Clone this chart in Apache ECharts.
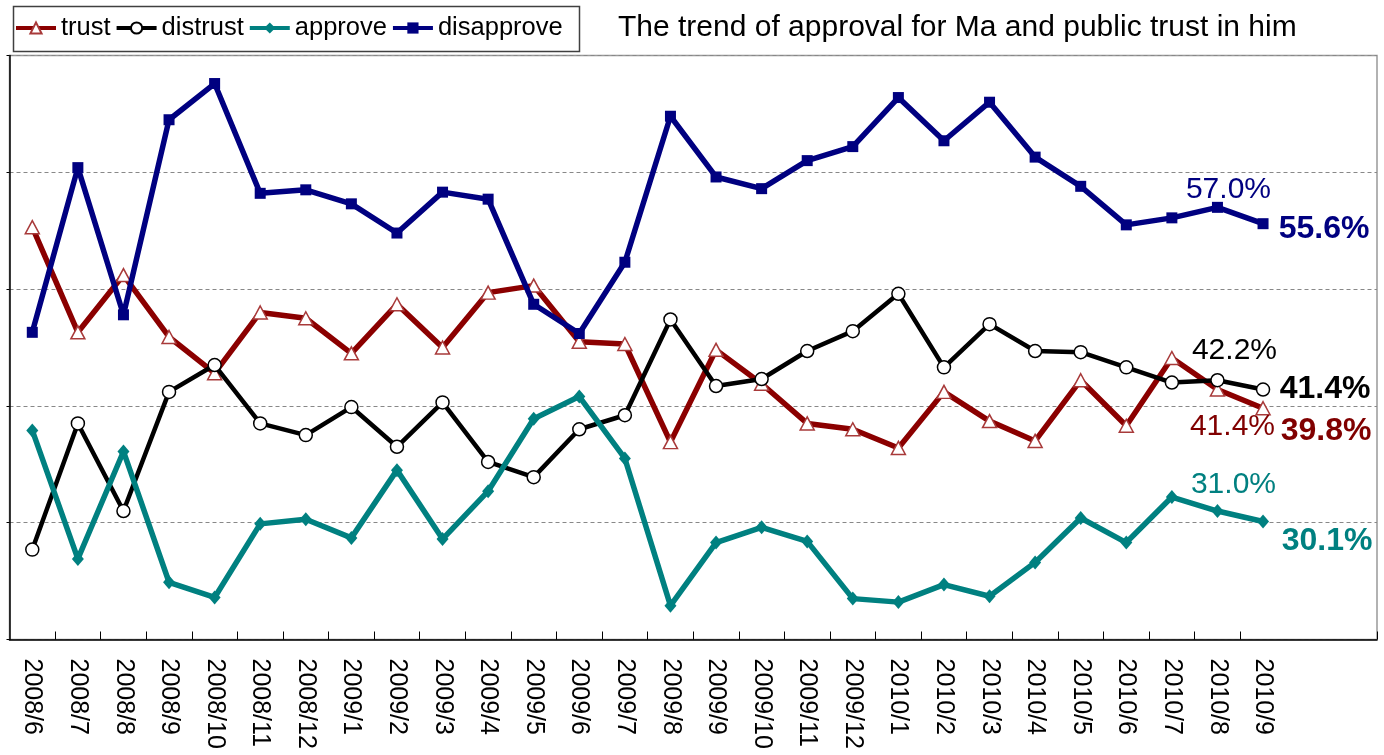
<!DOCTYPE html>
<html><head><meta charset="utf-8">
<script src="https://cdn.jsdelivr.net/npm/echarts@6/dist/echarts.min.js"></script>
<style>html,body{margin:0;padding:0;background:#fff}#c{width:1384px;height:755px}</style>
</head><body><div id="c"></div>
<script>
const categories = ['2008/6','2008/7','2008/8','2008/9','2008/10','2008/11','2008/12','2009/1','2009/2','2009/3','2009/4','2009/5','2009/6','2009/7','2009/8','2009/9','2009/10','2009/11','2009/12','2010/1','2010/2','2010/3','2010/4','2010/5','2010/6','2010/7','2010/8','2010/9'];
const emptyCategories = ['', ''];
const trust      = [55.3,46.3,51.2,45.9,42.8,48.0,47.5,44.5,48.7,45.0,49.7,50.3,45.5,45.3,36.9,44.8,41.9,38.5,38.0,36.4,41.2,38.7,37.0,42.2,38.3,44.1,41.4,39.8];
const distrust   = [27.7,38.5,31.0,41.2,43.5,38.5,37.5,39.9,36.5,40.3,35.2,33.9,38.0,39.2,47.4,41.7,42.3,44.7,46.4,49.6,43.3,47.0,44.7,44.6,43.3,42.0,42.2,41.4];
const approve    = [37.9,26.9,36.1,24.9,23.6,29.9,30.3,28.7,34.5,28.6,32.7,38.9,40.8,35.5,22.9,28.3,29.6,28.4,23.5,23.2,24.7,23.7,26.6,30.4,28.3,32.2,31.0,30.1];
const disapprove = [46.3,60.4,47.8,64.5,67.6,58.2,58.5,57.3,54.8,58.3,57.7,48.7,46.2,52.3,64.8,59.6,58.6,61.0,62.2,66.4,62.7,66.0,61.3,58.8,55.5,56.1,57.0,55.6];
const yMin = 20, yMax = 70, yStep = 10;

const FONT = '"Liberation Sans", Arial, sans-serif';

function withEndLabels(values, color, offSmall, offBig) {
  const n = values.length;
  return values.map(function (v, i) {
    if (i === n - 2) {
      return {value: v, label: {show: true, position: 'inside', offset: offSmall, color: color,
        fontSize: 30, fontFamily: FONT, formatter: function (p) { return p.value.toFixed(1) + '%'; }}};
    }
    if (i === n - 1) {
      return {value: v, label: {show: true, position: 'inside', offset: offBig, color: color,
        fontSize: 32, fontWeight: 'bold', fontFamily: FONT, formatter: function (p) { return p.value.toFixed(1) + '%'; }}};
    }
    return v;
  });
}

const chart = echarts.init(document.getElementById('c'), null, {renderer: 'canvas'});
chart.setOption({
  animation: false,
  backgroundColor: '#fff',
  title: {
    text: 'The trend of approval for Ma and public trust in him',
    left: 618, top: 13, padding: 0,
    textStyle: {fontFamily: FONT, fontSize: 30, fontWeight: 'normal', color: '#000'}
  },
  graphic: [{
    type: 'rect', left: 11, top: 4,
    shape: {width: 566, height: 45},
    style: {fill: 'none', stroke: '#404040', lineWidth: 1.5}
  }],
  legend: {
    left: 14, top: 15, padding: 0, itemGap: 4, itemWidth: 40, itemHeight: 14,
    data: ['trust', 'distrust', 'approve', 'disapprove'],
    lineStyle: {width: 4},
    textStyle: {fontFamily: FONT, fontSize: 25.5, color: '#000'}
  },
  grid: {left: 9.5, right: 7, top: 55.5, bottom: 115.5, show: true, borderColor: '#999', borderWidth: 1.5, containLabel: false},
  xAxis: {
    type: 'category',
    data: categories.concat(emptyCategories),
    boundaryGap: true,
    axisLine: {show: true, lineStyle: {color: '#000', width: 1.5}},
    axisTick: {show: true, inside: true, length: 8, lineStyle: {color: '#000', width: 1},
      interval: function (index) { return index >= 1 && index <= categories.length - 1; }},
    axisLabel: {show: true, interval: 0, rotate: -90, margin: 19, fontFamily: FONT, fontSize: 25, color: '#000'},
    splitLine: {show: false}
  },
  yAxis: {
    type: 'value', min: yMin, max: yMax, interval: yStep,
    axisLine: {show: true, lineStyle: {color: '#000', width: 1.5}},
    axisTick: {show: true, inside: false, length: 3, lineStyle: {color: '#000', width: 1}},
    axisLabel: {show: false},
    splitLine: {show: true, lineStyle: {color: '#888', width: 1, type: [4, 3]}}
  },
  series: [
    {
      name: 'trust', type: 'line', data: withEndLabels(trust, '#800000', [15, 37], [63, 23]),
      symbol: 'triangle', symbolSize: [14, 13], showAllSymbol: true,
      lineStyle: {color: '#8b0000', width: 5.5},
      itemStyle: {color: '#fff', borderColor: '#a83a3a', borderWidth: 1.5},
      emphasis: {disabled: true}, z: 2
    },
    {
      name: 'distrust', type: 'line', data: withEndLabels(distrust, '#000', [17, -29], [62, 0]),
      symbol: 'circle', symbolSize: 13, showAllSymbol: true,
      lineStyle: {color: '#000', width: 4.5},
      itemStyle: {color: '#fff', borderColor: '#000', borderWidth: 1.5},
      emphasis: {disabled: true}, z: 3
    },
    {
      name: 'approve', type: 'line', data: withEndLabels(approve, '#008080', [16, -26], [64, 20]),
      symbol: 'diamond', symbolSize: [12, 14], showAllSymbol: true,
      lineStyle: {color: '#008080', width: 5.5},
      itemStyle: {color: '#008080', borderColor: '#008080', borderWidth: 0},
      emphasis: {disabled: true}, z: 4
    },
    {
      name: 'disapprove', type: 'line', data: withEndLabels(disapprove, '#000080', [11, -17.5], [61, 5]),
      symbol: 'rect', symbolSize: 11, showAllSymbol: true,
      lineStyle: {color: '#000080', width: 5.5},
      itemStyle: {color: '#000080', borderColor: '#000080', borderWidth: 0},
      emphasis: {disabled: true}, z: 5
    }
  ]
});
</script>
</body></html>
